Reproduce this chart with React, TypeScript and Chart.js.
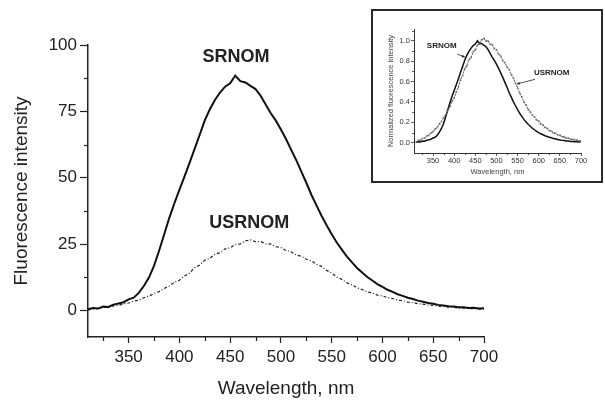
import React, { useEffect, useRef } from "react";
import { Chart, registerables } from "chart.js";

Chart.register(...registerables);

const FONT = "'Liberation Sans', Arial, Helvetica, sans-serif";
const INK = "#222";

// Wavelength grid (nm)
const WAVELENGTH = [
  310, 315, 320, 325, 330, 335, 340, 345, 350, 355, 360, 365, 370, 375, 380, 385, 390, 395, 400, 405,
  410, 415, 420, 425, 430, 435, 440, 445, 450, 455, 460, 465, 470, 475, 480, 485, 490, 495, 500, 505,
  510, 515, 520, 525, 530, 535, 540, 545, 550, 555, 560, 565, 570, 575, 580, 585, 590, 595, 600, 605,
  610, 615, 620, 625, 630, 635, 640, 645, 650, 655, 660, 665, 670, 675, 680, 685, 690, 695, 700,
];

// Fluorescence intensity, SRNOM
const SRNOM = [
  0.4, 0.9, 0.7, 1.5, 1.3, 2.2, 2.6, 3.1, 4.2, 4.8, 6.6, 9.2, 12.4, 16.8, 22.5, 28.6, 34.8, 40.3, 45.4, 50.4,
  55.6, 60.9, 66.2, 71.6, 75.8, 79.3, 82.1, 84.3, 85.6, 88.5, 86.4, 85.9, 84.6, 83.4, 80.9, 77.6, 74.3, 71.5, 68.2, 64.6,
  60.6, 56.7, 52.4, 48.1, 43.6, 39.6, 35.7, 32.1, 28.7, 25.6, 22.9, 20.3, 18.1, 16.0, 14.3, 12.6, 11.3, 9.9, 8.9, 7.8,
  7.0, 6.1, 5.5, 4.8, 4.3, 3.7, 3.3, 2.8, 2.5, 2.1, 1.9, 1.6, 1.5, 1.2, 1.2, 0.9, 1.0, 0.7, 0.8,
];

// Fluorescence intensity, USRNOM
const USRNOM = [
  0.2, 0.6, 0.7, 1.1, 1.2, 1.7, 1.9, 2.5, 2.8, 3.5, 3.9, 4.8, 5.4, 6.4, 7.1, 8.3, 9.2, 10.6, 11.4, 13.0,
  14.1, 16.1, 17.1, 18.9, 19.6, 21.2, 21.7, 23.2, 23.6, 24.9, 25.1, 26.2, 26.6, 25.9, 26.0, 25.1, 25.0, 24.0, 23.7, 22.6,
  22.1, 20.9, 20.4, 19.3, 18.7, 17.4, 16.6, 15.1, 14.1, 12.6, 11.7, 10.4, 9.6, 8.5, 7.9, 7.0, 6.6, 5.8, 5.5, 4.8,
  4.5, 3.9, 3.7, 3.1, 3.0, 2.5, 2.4, 2.0, 1.9, 1.6, 1.5, 1.2, 1.2, 0.9, 0.9, 0.7, 0.7, 0.5, 0.5,
];

// Peak values used for the normalized inset
const SRNOM_PEAK = 88.5;
const USRNOM_PEAK = 26.0;

// Main axis ticks
const X_TICKS = [350, 400, 450, 500, 550, 600, 650, 700];
const X_MINOR = [325, 375, 425, 475, 525, 575, 625, 675];
const Y_TICKS = [0, 25, 50, 75, 100];
const Y_MINOR = [12.5, 37.5, 62.5, 87.5];

// Inset axis ticks
const INSET_Y_TICKS = [0, 0.2, 0.4, 0.6, 0.8, 1.0];
const INSET_Y_MINOR = [0.1, 0.3, 0.5, 0.7, 0.9, 1.1];

const minorTicksPlugin = {
  id: "minorTicks",
  afterDraw(chart: any, _args: any, opts: any) {
    const { ctx } = chart;
    const xs = chart.scales.x;
    const ys = chart.scales.y;
    ctx.save();
    ctx.strokeStyle = opts.color;
    ctx.lineWidth = opts.width;
    (opts.x || []).forEach((v: number) => {
      const px = Math.round(xs.getPixelForValue(v)) + 0.5;
      ctx.beginPath();
      ctx.moveTo(px, xs.top);
      ctx.lineTo(px, xs.top + opts.xLen);
      ctx.stroke();
    });
    (opts.y || []).forEach((v: number) => {
      const py = Math.round(ys.getPixelForValue(v)) + 0.5;
      ctx.beginPath();
      ctx.moveTo(ys.right, py);
      ctx.lineTo(ys.right - opts.yLen, py);
      ctx.stroke();
    });
    ctx.restore();
  },
};

const textPlugin = {
  id: "texts",
  afterDraw(chart: any, _args: any, opts: any) {
    const { ctx } = chart;
    const xs = chart.scales.x;
    const ys = chart.scales.y;
    ctx.save();
    (opts.items || []).forEach((it: any) => {
      ctx.font = it.font;
      ctx.fillStyle = it.color;
      ctx.textAlign = "center";
      ctx.textBaseline = "middle";
      ctx.fillText(it.text, xs.getPixelForValue(it.x), ys.getPixelForValue(it.y));
    });
    (opts.arrows || []).forEach((a: any) => {
      const x1 = xs.getPixelForValue(a.x1);
      const y1 = ys.getPixelForValue(a.y1);
      const x2 = xs.getPixelForValue(a.x2);
      const y2 = ys.getPixelForValue(a.y2);
      ctx.strokeStyle = a.color;
      ctx.fillStyle = a.color;
      ctx.lineWidth = 0.8;
      ctx.beginPath();
      ctx.moveTo(x1, y1);
      ctx.lineTo(x2, y2);
      ctx.stroke();
      const ang = Math.atan2(y2 - y1, x2 - x1);
      const hl = 3.5;
      ctx.beginPath();
      ctx.moveTo(x2, y2);
      ctx.lineTo(x2 - hl * Math.cos(ang - 0.4), y2 - hl * Math.sin(ang - 0.4));
      ctx.lineTo(x2 - hl * Math.cos(ang + 0.4), y2 - hl * Math.sin(ang + 0.4));
      ctx.closePath();
      ctx.fill();
    });
    ctx.restore();
  },
};

function series(values: number[], scale = 1) {
  return WAVELENGTH.map((w, i) => ({ x: w, y: values[i] / scale }));
}

export default function App() {
  const mainRef = useRef<HTMLCanvasElement>(null);
  const insetRef = useRef<HTMLCanvasElement>(null);

  useEffect(() => {
    const main = new Chart(mainRef.current as HTMLCanvasElement, {
      type: "line",
      data: {
        datasets: [
          {
            label: "SRNOM",
            data: series(SRNOM),
            borderColor: "#111",
            borderWidth: 2,
            pointRadius: 0,
            tension: 0,
            fill: false,
          },
          {
            label: "USRNOM",
            data: series(USRNOM),
            borderColor: "#222",
            borderWidth: 1.2,
            borderDash: [3, 2, 1, 2],
            pointRadius: 0,
            tension: 0,
            fill: false,
          },
        ],
      },
      options: {
        responsive: false,
        animation: false,
        events: [],
        layout: { padding: { left: 0, top: 45, right: 121, bottom: 0 } },
        plugins: {
          legend: { display: false },
          tooltip: { enabled: false },
          minorTicks: { x: X_MINOR, y: Y_MINOR, xLen: 4, yLen: 4, color: INK, width: 1.2 },
          texts: {
            items: [
              { text: "SRNOM", x: 455.7, y: 95.6, font: `bold 18px ${FONT}`, color: INK },
              { text: "USRNOM", x: 468.7, y: 33.1, font: `bold 18px ${FONT}`, color: INK },
            ],
          },
        } as any,
        scales: {
          x: {
            type: "linear",
            min: 310,
            max: 700,
            afterBuildTicks: (s: any) => {
              s.ticks = X_TICKS.map((v) => ({ value: v }));
            },
            afterFit: (s: any) => {
              s.height = 64;
            },
            grid: { drawOnChartArea: false, drawTicks: true, tickLength: 6, tickColor: INK, tickWidth: 1.2 },
            border: { display: true, color: INK, width: 1.5 },
            ticks: { font: { family: FONT, size: 17 }, color: INK, padding: 4, maxRotation: 0, autoSkip: false },
            title: {
              display: true,
              text: "Wavelength, nm",
              font: { family: FONT, size: 19 },
              color: INK,
              padding: { top: 0, bottom: 1 },
            },
          },
          y: {
            type: "linear",
            min: -10,
            max: 100,
            afterBuildTicks: (s: any) => {
              s.ticks = Y_TICKS.map((v) => ({ value: v }));
            },
            afterFit: (s: any) => {
              s.width = 88;
            },
            grid: { drawOnChartArea: false, drawTicks: true, tickLength: 8, tickColor: INK, tickWidth: 1.2 },
            border: { display: true, color: INK, width: 1.5 },
            ticks: { font: { family: FONT, size: 17 }, color: INK, padding: 3 },
            title: {
              display: true,
              text: "Fluorescence intensity",
              font: { family: FONT, size: 19 },
              color: INK,
              padding: { top: 10, bottom: 0 },
            },
          },
        },
      },
      plugins: [minorTicksPlugin, textPlugin],
    } as any);

    const inset = new Chart(insetRef.current as HTMLCanvasElement, {
      type: "line",
      data: {
        datasets: [
          {
            label: "USRNOM",
            data: series(USRNOM, USRNOM_PEAK),
            borderColor: "#6a6a6a",
            borderWidth: 1.1,
            borderDash: [2, 1],
            pointRadius: 1.2,
            pointStyle: "crossRot",
            pointBorderColor: "#555",
            pointBorderWidth: 0.6,
            tension: 0,
            fill: false,
          },
          {
            label: "SRNOM",
            data: series(SRNOM, SRNOM_PEAK),
            borderColor: "#111",
            borderWidth: 1.5,
            pointRadius: 0,
            tension: 0,
            fill: false,
          },
        ],
      },
      options: {
        responsive: false,
        animation: false,
        events: [],
        layout: { padding: { left: 0, top: 18, right: 20, bottom: 0 } },
        plugins: {
          legend: { display: false },
          tooltip: { enabled: false },
          minorTicks: { x: X_MINOR, y: INSET_Y_MINOR, xLen: 2, yLen: 2, color: "#333", width: 0.8 },
          texts: {
            items: [
              { text: "SRNOM", x: 370.5, y: 0.954, font: `bold 8px ${FONT}`, color: INK },
              { text: "USRNOM", x: 630.7, y: 0.681, font: `bold 8px ${FONT}`, color: INK },
            ],
            arrows: [
              { x1: 407.4, y1: 0.869, x2: 425.6, y2: 0.839, color: INK },
              { x1: 591.2, y1: 0.622, x2: 547.9, y2: 0.576, color: INK },
            ],
          },
        } as any,
        scales: {
          x: {
            type: "linear",
            min: 305,
            max: 700,
            afterBuildTicks: (s: any) => {
              s.ticks = X_TICKS.map((v) => ({ value: v }));
            },
            afterFit: (s: any) => {
              s.height = 28;
            },
            grid: { drawOnChartArea: false, drawTicks: true, tickLength: 3, tickColor: "#333", tickWidth: 0.8 },
            border: { display: true, color: "#333", width: 1 },
            ticks: { font: { family: FONT, size: 7.5 }, color: "#333", padding: 0, maxRotation: 0, autoSkip: false },
            title: {
              display: true,
              text: "Wavelength, nm",
              font: { family: FONT, size: 7.5 },
              color: "#444",
              padding: { top: 0, bottom: 5 },
            },
          },
          y: {
            type: "linear",
            min: -0.1,
            max: 1.115,
            afterBuildTicks: (s: any) => {
              s.ticks = INSET_Y_TICKS.map((v) => ({ value: v }));
            },
            afterFit: (s: any) => {
              s.width = 41;
            },
            grid: { drawOnChartArea: false, drawTicks: true, tickLength: 3, tickColor: "#333", tickWidth: 0.8 },
            border: { display: true, color: "#333", width: 1 },
            ticks: {
              font: { family: FONT, size: 7.5 },
              color: "#333",
              padding: 1,
              callback: (v: any) => Number(v).toFixed(1),
            },
            title: {
              display: true,
              text: "Normalized fluorescence intensity",
              font: { family: FONT, size: 7.5 },
              color: "#444",
              padding: { top: 13, bottom: 0 },
            },
          },
        },
      },
      plugins: [minorTicksPlugin, textPlugin],
    } as any);

    return () => {
      main.destroy();
      inset.destroy();
    };
  }, []);

  return (
    <div style={{ position: "fixed", left: 0, top: 0, width: 605, height: 401, background: "#fff" }}>
      <canvas ref={mainRef} width={605} height={401} style={{ position: "absolute", left: 0, top: 0 }} />
      <div
        style={{
          position: "absolute",
          left: 371,
          top: 9,
          width: 232,
          height: 174,
          boxSizing: "border-box",
          border: "2px solid #2a2a2a",
          background: "#fff",
        }}
      >
        <canvas ref={insetRef} width={228} height={170} style={{ display: "block" }} />
      </div>
    </div>
  );
}
